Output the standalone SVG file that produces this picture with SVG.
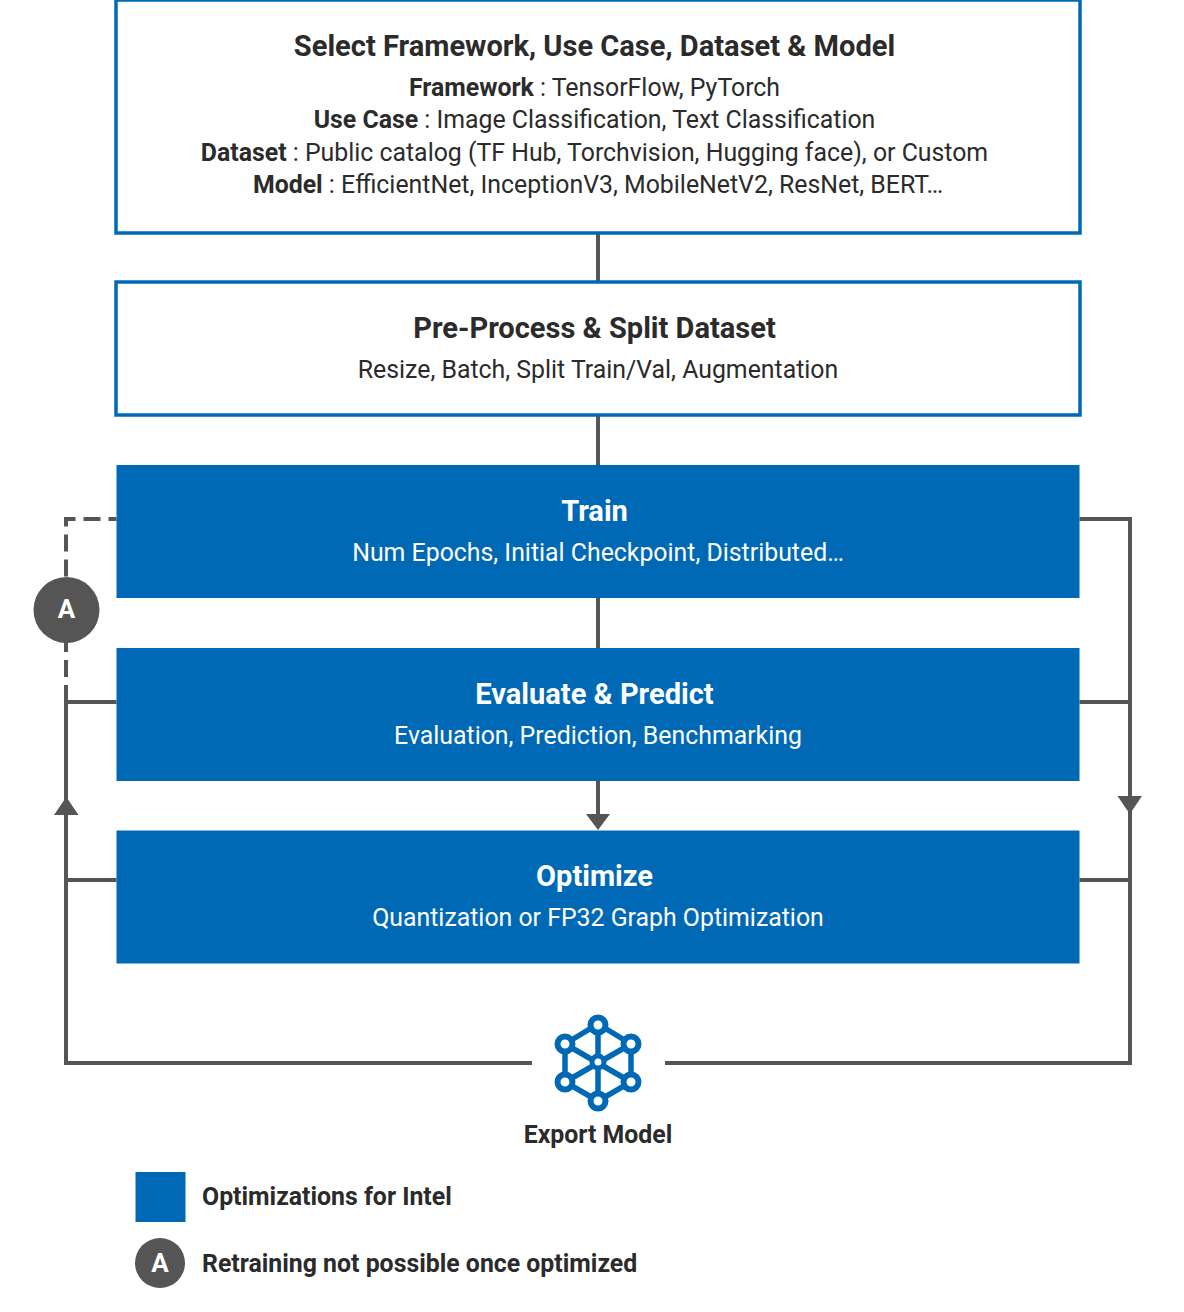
<svg xmlns="http://www.w3.org/2000/svg" width="1184" height="1312" viewBox="0 0 1184 1312">
<style>
text{font-family:Roboto,"Liberation Sans",sans-serif;text-anchor:middle;fill:#2b2b2b;font-size:24.85px}
.t{font-size:29.05px;font-weight:700}
.b{font-weight:700}
.box{fill:#fff;stroke:#0069b6;stroke-width:3.5}
.fill{fill:#0069b6}
.w{fill:#fff}
.ln{fill:none;stroke:#555;stroke-width:4}
.ah{fill:#555}
.ic{fill:none;stroke:#0069b6}
.l{text-anchor:start;font-weight:700}
</style>
<g id="connectors">
<path class="ln" d="M598 233V282M598 415V465M598 598V648M598 781V816"/>
<polygon class="ah" points="586,814 610,814 598,830"/>
<path class="ln" d="M116.500 519H66V578" stroke-dasharray="17 8" stroke-dashoffset="9"/>
<path class="ln" d="M66 641V702" stroke-dasharray="17 8" stroke-dashoffset="6"/>
<path class="ln" d="M116.500 702H66V1063H532M116.500 880H66"/>
<polygon class="ah" points="54,815 78.500,815 66.300,797"/>
<path class="ln" d="M1079.500 519H1130V1063H665M1079.500 702H1130M1079.500 880H1130"/>
<polygon class="ah" points="1117.500,796 1142,796 1129.800,814"/>
</g>
<g id="select">
<rect class="box" x="116" y="0" width="964" height="233"/>
<text class="t" x="594.500" y="56">Select Framework, Use Case, Dataset &amp; Model</text>
<text x="594.500" y="96.300"><tspan class="b">Framework</tspan> : TensorFlow, PyTorch</text>
<text x="594.500" y="128.300"><tspan class="b">Use Case</tspan> : Image Classification, Text Classification</text>
<text x="594.500" y="161.300"><tspan class="b">Dataset</tspan> : Public catalog (TF Hub, Torchvision, Hugging face), or Custom</text>
<text x="598" y="193.300"><tspan class="b">Model</tspan> : EfficientNet, InceptionV3, MobileNetV2, ResNet, BERT…</text>
</g>
<g id="preprocess">
<rect class="box" x="116" y="282" width="964" height="133"/>
<text class="t" x="594.500" y="338">Pre-Process &amp; Split Dataset</text>
<text x="598" y="378.300">Resize, Batch, Split Train/Val, Augmentation</text>
</g>
<g id="train">
<rect class="fill" x="116.500" y="465" width="963" height="133"/>
<text class="t w" x="594.500" y="521">Train</text>
<text class="w" x="598" y="561.300">Num Epochs, Initial Checkpoint, Distributed…</text>
</g>
<g id="evaluate">
<rect class="fill" x="116.500" y="648" width="963" height="133"/>
<text class="t w" x="594.500" y="704">Evaluate &amp; Predict</text>
<text class="w" x="598" y="744.300">Evaluation, Prediction, Benchmarking</text>
</g>
<g id="optimize">
<rect class="fill" x="116.500" y="830.500" width="963" height="133"/>
<text class="t w" x="594.500" y="886">Optimize</text>
<text class="w" x="598" y="926.300">Quantization or FP32 Graph Optimization</text>
</g>
<g id="marker-a">
<circle class="ah" cx="66.500" cy="610" r="33"/>
<text class="b w" x="66.500" y="618" style="font-size:26px">A</text>
</g>
<g id="export">
<path class="ic" stroke-width="5.500" d="M598 1024V1101M565 1044L631 1082M631 1044L565 1082M598 1024L631 1044V1082L598 1101L565 1082V1044Z"/>
<g fill="#fff" stroke="#0069b6" stroke-width="6">
<circle cx="598" cy="1025" r="7.500"/><circle cx="631" cy="1044" r="7.500"/><circle cx="631" cy="1082" r="7.500"/>
<circle cx="598" cy="1101" r="7.500"/><circle cx="565" cy="1082" r="7.500"/><circle cx="565" cy="1044" r="7.500"/>
<circle cx="598" cy="1062" r="6" stroke-width="5"/>
</g>
<text class="b" x="598" y="1143">Export Model</text>
</g>
<g id="legend">
<rect class="fill" x="135.500" y="1172" width="50" height="50"/>
<text class="l" x="202" y="1205">Optimizations for Intel</text>
<circle class="ah" cx="160" cy="1263" r="25"/>
<text class="b w" x="160" y="1272" style="font-size:26px">A</text>
<text class="l" x="202" y="1272">Retraining not possible once optimized</text>
</g>
</svg>
